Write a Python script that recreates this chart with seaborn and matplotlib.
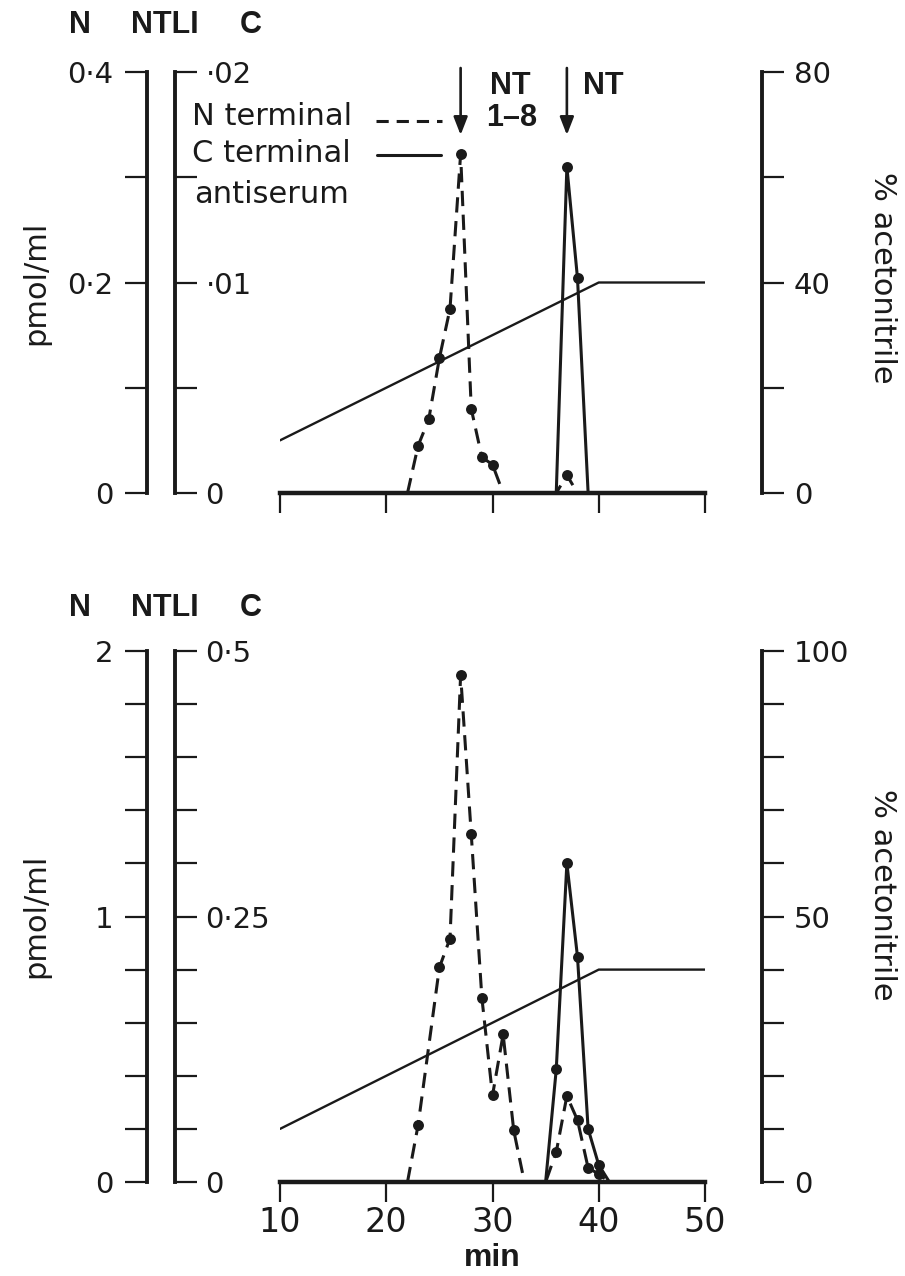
import numpy as np
import pandas as pd
import matplotlib
matplotlib.use("Agg")
import matplotlib.pyplot as plt
from matplotlib.lines import Line2D
import seaborn as sns

# ---------------- data ----------------
grad_x = [10, 40, 50]
grad_y = [10, 40, 40]

top_n_x = [22, 23, 24, 25, 26, 27, 28, 29, 30, 31, 36, 37, 38]
top_n_y = [0, 0.045, 0.070, 0.128, 0.175, 0.322, 0.080, 0.034, 0.027, 0.0, 0, 0.017, 0]
top_c_x = [36, 37, 38, 39]
top_c_y = [0, 0.0155, 0.0102, 0]

bot_n_x = [22, 23, 25, 26, 27, 28, 29, 30, 31, 32, 33, 35, 36, 37, 38, 39, 40, 41]
bot_n_y = [0, 0.215, 0.808, 0.917, 1.91, 1.31, 0.694, 0.326, 0.556, 0.194, 0, 0, 0.113, 0.324, 0.233, 0.053, 0.03, 0]
bot_c_x = [35, 36, 37, 38, 39, 40, 41]
bot_c_y = [0, 0.106, 0.300, 0.212, 0.05, 0.016, 0]

x_ticks = [10, 20, 30, 40, 50]
x_ticklabels = ["10", "20", "30", "40", "50"]

top_n_ticks = [0, 0.1, 0.2, 0.3, 0.4]
top_n_labels = ["0", "", "0·2", "", "0·4"]
top_c_ticks = [0, 0.005, 0.01, 0.015, 0.02]
top_c_labels = ["0", "", "·01", "", "·02"]
top_g_ticks = [0, 20, 40, 60, 80]
top_g_labels = ["0", "", "40", "", "80"]

bot_n_ticks = [0, 0.2, 0.4, 0.6, 0.8, 1.0, 1.2, 1.4, 1.6, 1.8, 2.0]
bot_n_labels = ["0", "", "", "", "", "1", "", "", "", "", "2"]
bot_c_ticks = [0, 0.05, 0.1, 0.15, 0.2, 0.25, 0.3, 0.35, 0.4, 0.45, 0.5]
bot_c_labels = ["0", "", "", "", "", "0·25", "", "", "", "", "0·5"]
bot_g_ticks = [0, 10, 20, 30, 40, 50, 60, 70, 80, 90, 100]
bot_g_labels = ["0", "", "", "", "", "50", "", "", "", "", "100"]

# ---------------- style ----------------
sns.set_theme(style="white")
plt.rcParams["font.family"] = ["DejaVu Sans"]
plt.rcParams["lines.dashed_pattern"] = [5.0, 2.8]

W, H = 905, 1276
fig = plt.figure(figsize=(W / 100, H / 100), dpi=100)
fig.patch.set_facecolor("white")

INK = "#1a1a1a"
X0, X1 = 280, 705
LW_DATA = 2.2
TICK_LEN = 16
TICK_W = 1.6
SPINE_W = 2.8
TL_SIZE = 21
MS = 62


def rect(x0, x1, ytop, ybot):
    return [x0 / W, 1 - ybot / H, (x1 - x0) / W, (ybot - ytop) / H]


def scale_axis(xpx, ytop, ybot, lim, ticks, labels, side, pad):
    if side == "left":
        ax = fig.add_axes(rect(xpx, xpx + 2, ytop, ybot))
    else:
        ax = fig.add_axes(rect(xpx - 2, xpx, ytop, ybot))
    ax.patch.set_visible(False)
    for s in ax.spines.values():
        s.set_visible(False)
    sp = ax.spines[side]
    sp.set_visible(True)
    sp.set_linewidth(SPINE_W)
    sp.set_color(INK)
    sp.set_bounds(lim[0], lim[1])
    sp.set_capstyle("projecting")
    ax.set_ylim(lim)
    ax.set_xticks([])
    ax.set_yticks(ticks)
    ax.set_yticklabels(labels)
    if side == "right":
        ax.yaxis.tick_right()
    else:
        ax.yaxis.tick_left()
    ax.tick_params(axis="y", direction="out", length=TICK_LEN, width=TICK_W,
                   color=INK, labelsize=TL_SIZE, pad=pad, labelcolor=INK)
    return ax


def panel(ytop, ybot, nlim, clim, glim, nx, ny, cx, cy,
          nt, nl, ct, cl, gt, gl, show_xlabels):
    ax = fig.add_axes(rect(X0, X1, ytop, ybot))
    axc = fig.add_axes(rect(X0, X1, ytop, ybot))
    axg = fig.add_axes(rect(X0, X1, ytop, ybot))
    for a, lim in ((ax, nlim), (axc, clim), (axg, glim)):
        a.patch.set_visible(False)
        a.set_xlim(10, 50)
        a.set_ylim(lim)
        for s in a.spines.values():
            s.set_visible(False)
        a.set_yticks([])
        a.set_xticks([])

    # gradient
    sns.lineplot(x=grad_x, y=grad_y, ax=axg, color=INK, lw=1.7,
                 estimator=None, sort=False)
    # N terminal (dashed)
    sns.lineplot(x=nx, y=ny, ax=ax, color=INK, lw=LW_DATA, linestyle="--",
                 estimator=None, sort=False)
    nd = pd.DataFrame({"x": nx, "y": ny})
    nd = nd[nd["y"] > 0]
    sns.scatterplot(data=nd, x="x", y="y", ax=ax, color=INK, s=MS,
                    linewidth=0, zorder=5)
    # C terminal (solid)
    sns.lineplot(x=cx, y=cy, ax=axc, color=INK, lw=LW_DATA,
                 estimator=None, sort=False)
    cd = pd.DataFrame({"x": cx, "y": cy})
    cd = cd[cd["y"] > 0]
    sns.scatterplot(data=cd, x="x", y="y", ax=axc, color=INK, s=MS,
                    linewidth=0, zorder=5)
    for a in (ax, axc, axg):
        a.set_xlabel("")
        a.set_ylabel("")
        a.set_xlim(10, 50)

    ax.spines["bottom"].set_visible(True)
    ax.spines["bottom"].set_linewidth(3.2)
    ax.spines["bottom"].set_color(INK)
    ax.set_xticks(x_ticks)
    ax.set_xticklabels(x_ticklabels if show_xlabels else [""] * len(x_ticks))
    ax.tick_params(axis="x", direction="out", length=14.5, width=TICK_W,
                   color=INK, labelsize=24, pad=3, labelcolor=INK,
                   bottom=True)

    scale_axis(147, ytop, ybot, nlim, nt, nl, "left", 8)
    scale_axis(175, ytop, ybot, clim, ct, cl, "right", 6)
    scale_axis(762, ytop, ybot, glim, gt, gl, "right", 7)
    return ax


def ftext(x, y, s, **kw):
    fig.text(x / W, 1 - y / H, s, color=INK, **kw)


axT = panel(72, 493, (0, 0.4), (0, 0.02), (0, 80),
            top_n_x, top_n_y, top_c_x, top_c_y,
            top_n_ticks, top_n_labels, top_c_ticks, top_c_labels,
            top_g_ticks, top_g_labels, False)

axB = panel(651, 1182, (0, 2), (0, 0.5), (0, 100),
            bot_n_x, bot_n_y, bot_c_x, bot_c_y,
            bot_n_ticks, bot_n_labels, bot_c_ticks, bot_c_labels,
            bot_g_ticks, bot_g_labels, True)

# ---------------- texts ----------------
hdr = dict(fontsize=22, fontweight="bold", family=["Liberation Sans"],
           ha="center", va="center")
for yy in (25, 608):
    ftext(80, yy, "N", **hdr)
    ftext(165, yy, "NTLI", **hdr)
    ftext(251, yy, "C", **hdr)

side = dict(fontsize=22, ha="center", va="center")
ftext(36, 283, "pmol/ml", rotation=90, **side)
ftext(36, 916, "pmol/ml", rotation=90, **side)
ftext(882, 278, "% acetonitrile", rotation=270, **side)
ftext(882, 895, "% acetonitrile", rotation=270, **side)

ftext(492, 1258, "min", fontsize=23, fontweight="bold", family=["Liberation Sans"],
      ha="center", va="center")

leg = dict(fontsize=22, ha="left", va="baseline")
ftext(192, 125, "N terminal", **leg)
ftext(192, 162, "C terminal", **leg)
ftext(194, 203, "antiserum", **leg)
fig.add_artist(Line2D([376 / W, 442 / W], [1 - 121 / H, 1 - 121 / H],
                      color=INK, lw=LW_DATA, linestyle="--",
                      dashes=(4.0, 2.6), transform=fig.transFigure))
fig.add_artist(Line2D([377 / W, 441 / W], [1 - 155 / H, 1 - 155 / H],
                      color=INK, lw=LW_DATA, transform=fig.transFigure))

for xd in (27, 37):
    xp = X0 + (xd - 10) / 40 * (X1 - X0)
    axT.annotate("", xy=(xp / W, 1 - 135 / H), xytext=(xp / W, 1 - 68 / H),
                 xycoords="figure fraction", textcoords="figure fraction",
                 arrowprops=dict(arrowstyle="-|>,head_length=0.9,head_width=0.35",
                                 color=INK, lw=1.9, shrinkA=0, shrinkB=0))
bold = dict(fontsize=22, fontweight="bold", family=["Liberation Sans"],
            ha="center", va="center")
ftext(510, 86, "NT", **bold)
ftext(512, 118, "1–8", **bold)
ftext(603, 86, "NT", **bold)

fig.savefig("out.png", dpi=100, facecolor="white")
